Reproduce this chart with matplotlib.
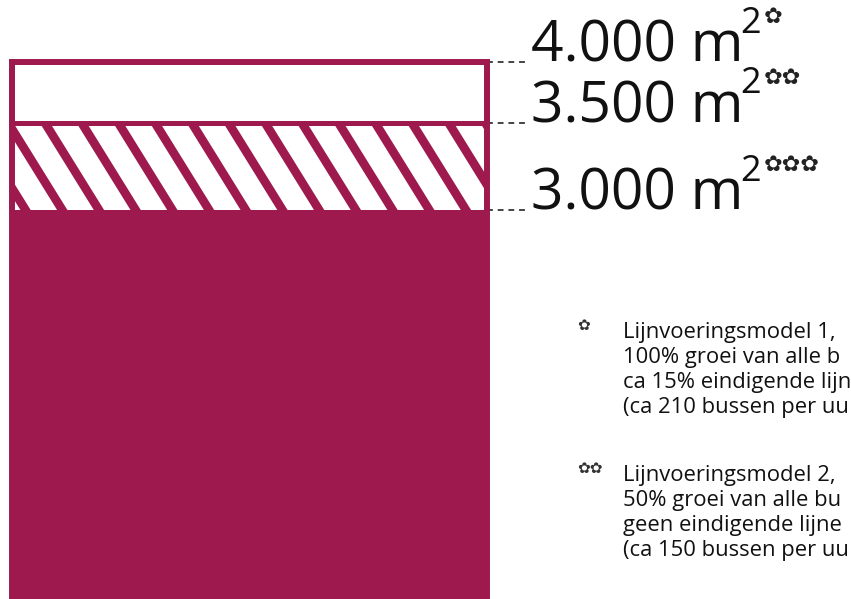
import numpy as np
import matplotlib
matplotlib.use("Agg")
import matplotlib.pyplot as plt

# surface levels (m2) and their labels
levels = [3000, 3500, 4000]
level_labels = ["3.000 m", "3.500 m", "4.000 m"]
level_stars = [3, 2, 1]

# footnotes as far as they are visible in the picture
footnotes = [
    ["Lijnvoeringsmodel 1,", "100% groei van alle b", "ca 15% eindigende lijn", "(ca 210 bussen per uu"],
    ["Lijnvoeringsmodel 2,", "50% groei van alle bu", "geen eindigende lijne", "(ca 150 bussen per uu"],
]

C = "#9E1A4E"
STAR = "\u273F"
plt.rcParams["font.family"] = ["Open Sans", "DejaVu Sans"]

fig = plt.figure(figsize=(8.51, 5.99), dpi=100)
ax = fig.add_axes([0, 0, 1, 1])
ax.axis("off")

# the drawing is not linear in m2: piecewise scale
scale_v = [0, 3000, 3500, 4000, 5000]
scale_s = [-136, 389, 476.5, 537, 658]
fwd = lambda v: np.interp(v, scale_v, scale_s)
inv = lambda s: np.interp(s, scale_s, scale_v)
ax.set_yscale("function", functions=(fwd, inv))
ax.set_ylim(inv(0), inv(599))
ax.set_xlim(-0.5 - 12 / 475, -0.5 + 839 / 475)

# solid part, hatched part, empty part
ax.bar(0, levels[0], width=1, color=C, linewidth=0)
hatched = ax.bar(0, levels[1] - levels[0], bottom=levels[0], width=1, color="white", linewidth=0)[0]
ax.bar(0, levels[2] - levels[1], bottom=levels[1], width=1, color="white", edgecolor=C, linewidth=3.6)
ax.bar(0, levels[2], width=1, fill=False, edgecolor=C, linewidth=4.3, zorder=5)

# diagonal stripes, drawn in pixels and clipped to the hatched part
fig.canvas.draw()
bb = hatched.get_window_extent()
spacing, run = 36.7, 0.62
for k in range(-4, 20):
    x0 = bb.x0 - 4 + k * spacing
    xs = [x0 - run * 20, x0 + run * (bb.height + 20)]
    ys = [bb.y1 + 20, bb.y0 - 20]
    ln = ax.plot(xs, ys, color=C, linewidth=6.3, solid_capstyle="butt",
                 transform=matplotlib.transforms.IdentityTransform())[0]
    ln.set_clip_path(hatched)

# leader lines and labels
gap = 42 / 475
for v, lab, n in zip(levels, level_labels, level_stars):
    ax.plot([0.5, 0.5 + gap], [v, v], color="#444444", linewidth=1.4, linestyle=(0, (3, 2.5)))
    t = ax.text(0.5 + gap + 0.004, v, lab, fontsize=41, ha="left", va="baseline", color="#111111")
    s2 = ax.annotate("2", xy=(1, v), xycoords=(t, "data"), xytext=(-2, 21), textcoords="offset points",
                     fontsize=26, ha="left", va="baseline", color="#111111")
    ax.annotate(STAR * n, xy=(1, v), xycoords=(s2, "data"), xytext=(2, 28), textcoords="offset points",
                fontsize=16, ha="left", va="baseline", color="#222222", family=["DejaVu Sans"])

# footnotes
W, H = 851, 599
for b, (lines, top) in enumerate(zip(footnotes, [338, 481])):
    fig.text(577 / W, 1 - (top - 8) / H, STAR * (b + 1), fontsize=11, color="#333333",
             va="baseline", family=["DejaVu Sans"])
    for i, line in enumerate(lines):
        fig.text(623 / W, 1 - (top + 25 * i) / H, line, fontsize=15.8, color="#111111", va="baseline")

fig.savefig("out.png", dpi=100)
